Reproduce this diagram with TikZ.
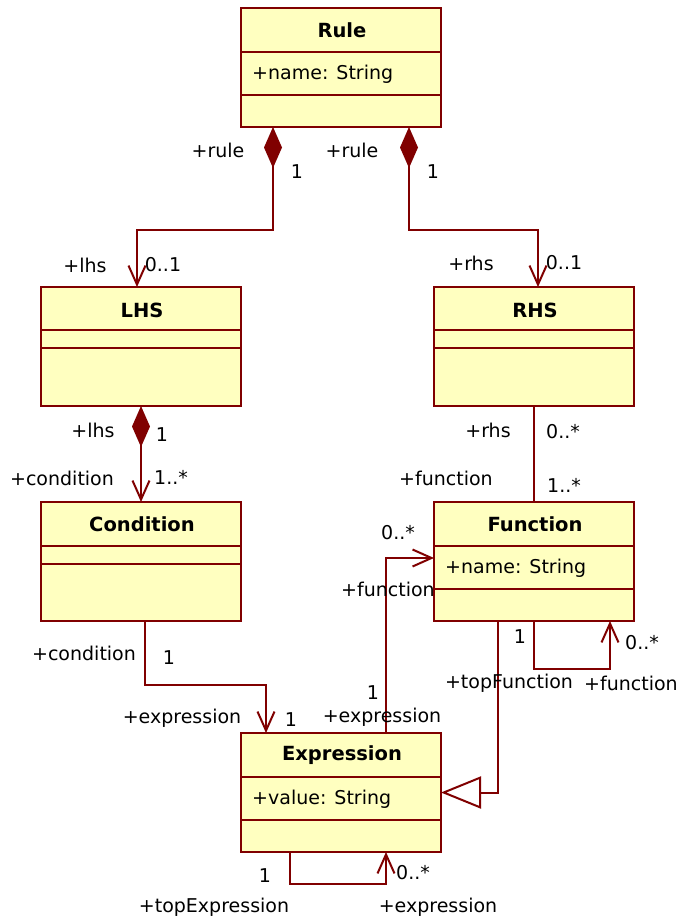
\documentclass[tikz,border=0pt]{standalone}
\usepackage{fontspec}
\setmainfont{DejaVu Sans}
\usetikzlibrary{arrows.meta}
\definecolor{umlred}{RGB}{128,0,0}
\definecolor{umlfill}{RGB}{255,255,192}
\begin{document}
\begin{tikzpicture}[x=1pt,y=-1pt,
  font=\fontsize{19}{22}\selectfont,
  classbox/.style={draw=umlred, fill=umlfill, line width=2pt, minimum width=200pt, minimum height=119pt, inner sep=0pt, outer sep=0pt},
  ctitle/.style={font=\fontsize{19.5}{22}\selectfont\bfseries, inner sep=0pt},
  attr/.style={anchor=west, inner sep=0pt},
  lbl/.style={inner sep=0pt},
  conn/.style={draw=umlred, line width=2pt},
  sep/.style={draw=umlred, line width=2pt},
  nav/.style={conn, -{Straight Barb[length=19pt,width=17pt]}},
  compnav/.style={conn, {Diamond[length=41pt,width=18pt,fill=umlred]}-{Straight Barb[length=19pt,width=17pt]}},
  gen/.style={conn, -{Triangle[open,length=40pt,width=32pt,fill=white]}}
]
\fill[white] (0,0) rectangle (680,919);
\useasboundingbox (0,0) rectangle (680,919);

% classes
\node[classbox] (rule) at (341,67.5) {};
\node[classbox] (lhs) at (141,346.5) {};
\node[classbox] (rhs) at (534,346.5) {};
\node[classbox] (condition) at (141,561.5) {};
\node[classbox] (function) at (534,561.5) {};
\node[classbox] (expression) at (341,792.5) {};

% compartments
\draw[sep] (241,52) -- (441,52);
\draw[sep] (241,95) -- (441,95);
\draw[sep] (41,330) -- (241,330);
\draw[sep] (41,348) -- (241,348);
\draw[sep] (434,330) -- (634,330);
\draw[sep] (434,348) -- (634,348);
\draw[sep] (41,546) -- (241,546);
\draw[sep] (41,564) -- (241,564);
\draw[sep] (434,546) -- (634,546);
\draw[sep] (434,589) -- (634,589);
\draw[sep] (241,777) -- (441,777);
\draw[sep] (241,820) -- (441,820);

% titles and attributes
\node[ctitle] (tRule) at (342,30) {Rule};
\node[attr] (aRule) at (252,74) {+name: String};
\node[ctitle] (tLHS) at (142,310) {LHS};
\node[ctitle] (tRHS) at (535,310) {RHS};
\node[ctitle] (tCond) at (142,524) {Condition};
\node[ctitle] (tFunc) at (535,524) {Function};
\node[attr] (aFunc) at (445,568) {+name: String};
\node[ctitle] (tExpr) at (342,755) {Expression};
\node[attr] (aExpr) at (252,799) {+value: String};

% connectors
\draw[compnav] ([xshift=-68pt]rule.south) -- (273,230) -| ([xshift=-4pt]lhs.north);
\draw[compnav] ([xshift=68pt]rule.south) -- (409,230) -| ([xshift=4pt]rhs.north);
\draw[compnav] (lhs.south) -- (condition.north);
\draw[conn] (rhs.south) -- (function.north);
\draw[nav] ([xshift=4pt]condition.south) -- (145,685) -| ([xshift=-75pt]expression.north);
\draw[nav] ([xshift=45pt]expression.north) |- ([yshift=3.5pt]function.west);
\draw[nav] (function.south) -- (534,669) -| ([xshift=76pt]function.south);
\draw[gen] ([xshift=-36pt]function.south) |- (expression.east);
\draw[nav] ([xshift=-51pt]expression.south) -- (290,884) -| ([xshift=45pt]expression.south);

% labels
\node[lbl] at (218,150) {+rule};
\node[lbl] at (297,172) {1};
\node[lbl] at (352,150) {+rule};
\node[lbl] at (433,172) {1};
\node[lbl] at (85,265) {+lhs};
\node[lbl] at (163,265) {0..1};
\node[lbl] at (471,263) {+rhs};
\node[lbl] at (564,263) {0..1};
\node[lbl] at (93,430) {+lhs};
\node[lbl] at (162,435) {1};
\node[lbl] at (62,478) {+condition};
\node[lbl] at (171,477) {1..*};
\node[lbl] at (488,430) {+rhs};
\node[lbl] at (563,432) {0..*};
\node[lbl] at (446,478) {+function};
\node[lbl] at (564,485) {1..*};
\node[lbl] at (84,653) {+condition};
\node[lbl] at (169,658) {1};
\node[lbl] at (182,718) {+expression};
\node[lbl] at (291,720) {1};
\node[lbl] at (398,533) {0..*};
\node[lbl] at (388,589) {+function};
\node[lbl] at (373,693) {1};
\node[lbl] at (382,717) {+expression};
\node[lbl] at (520,637) {1};
\node[lbl] at (642,643) {0..*};
\node[lbl] at (509,683) {+topFunction};
\node[lbl] at (631,683) {+function};
\node[lbl] at (265,876) {1};
\node[lbl] at (413,873) {0..*};
\node[lbl] at (214,907) {+topExpression};
\node[lbl] at (438,907) {+expression};
\end{tikzpicture}
\end{document}
